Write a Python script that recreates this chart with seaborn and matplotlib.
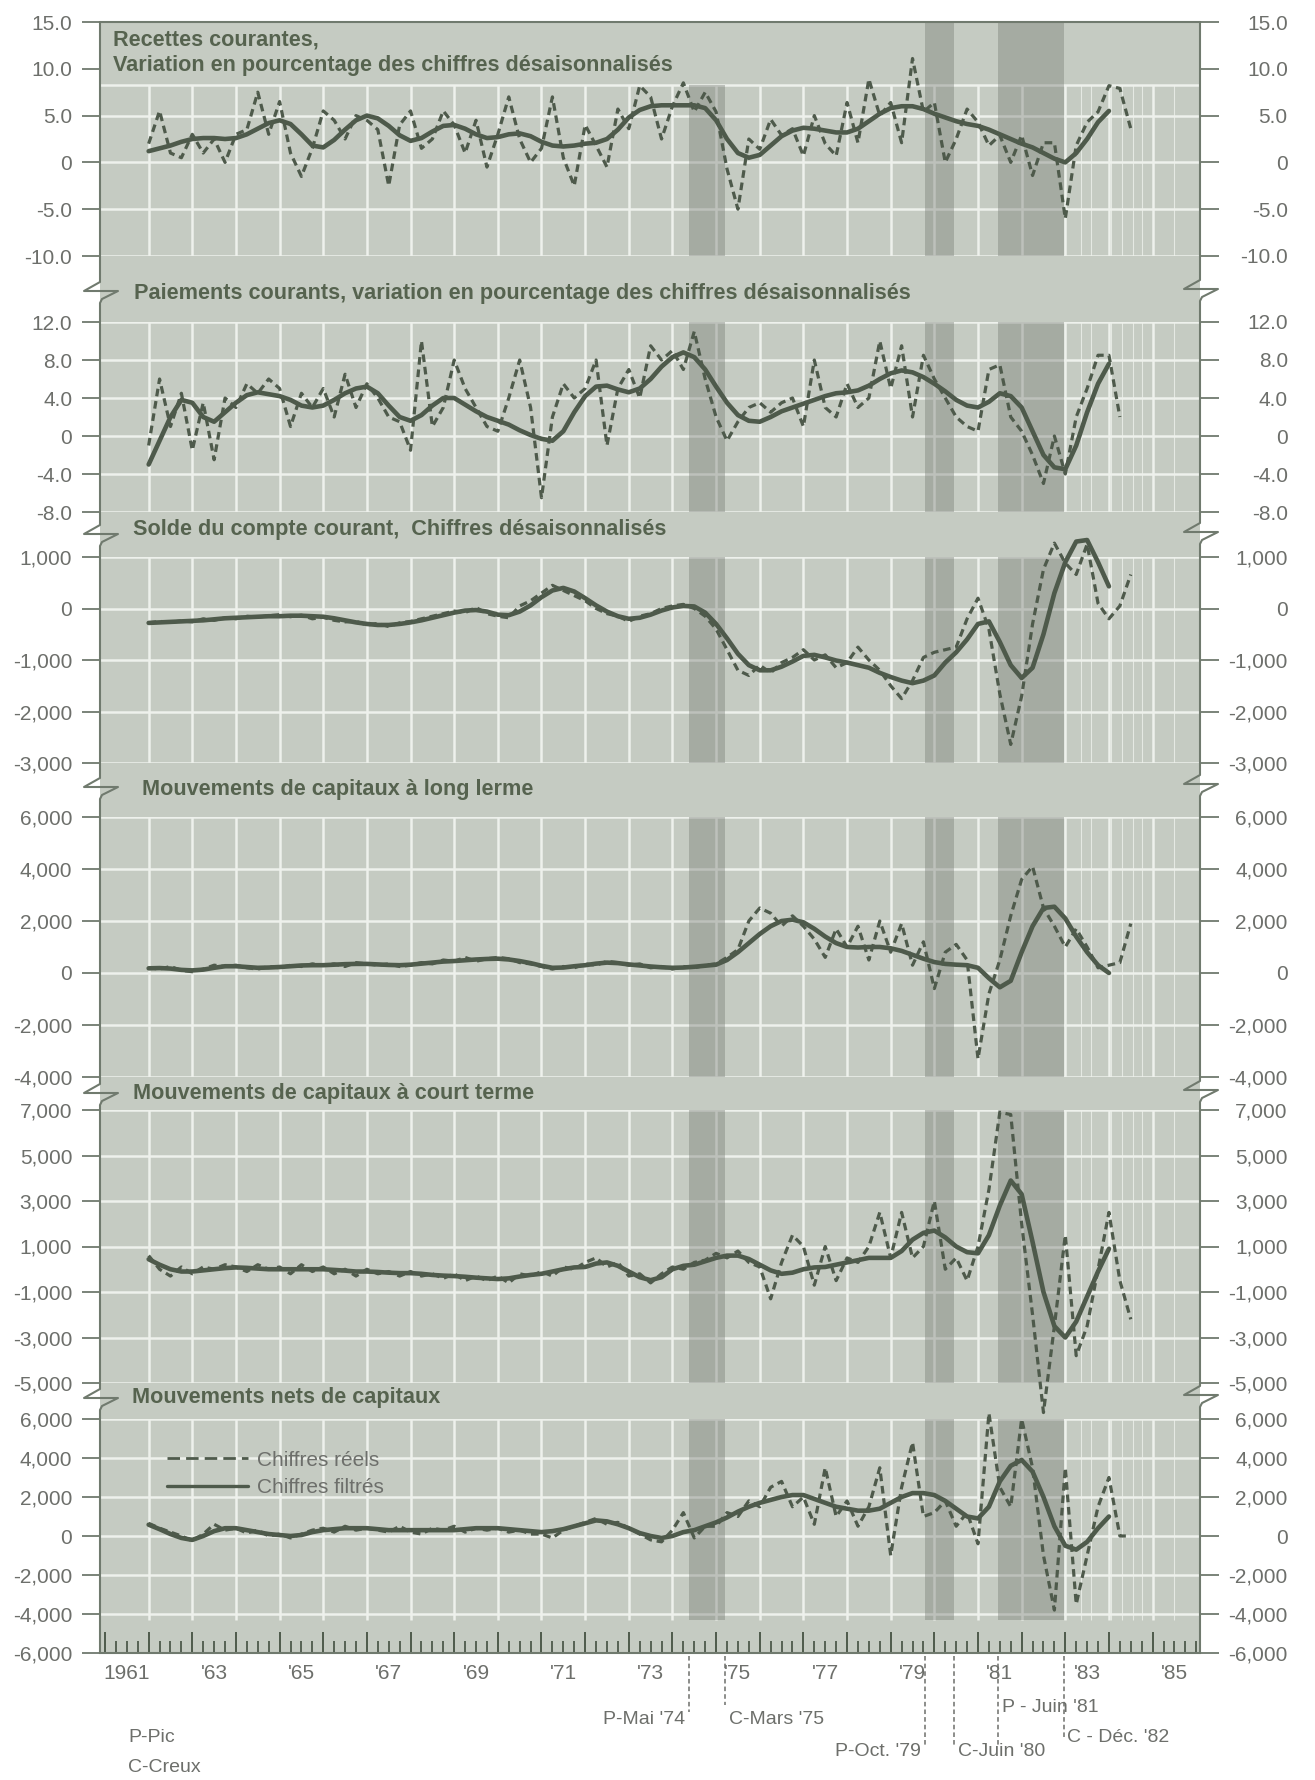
import numpy as np
import matplotlib
matplotlib.use("Agg")
import matplotlib.pyplot as plt
import seaborn as sns
from matplotlib.lines import Line2D
from matplotlib.patches import Rectangle
from matplotlib.transforms import blended_transform_factory

# ------------------------------------------------------------------ data
t0 = 1962.0          # first quarter plotted (quarterly series)

recettes_filtre = [1.2, 1.5, 1.8, 2.2, 2.5, 2.6, 2.6, 2.5, 2.6, 3.0, 3.6, 4.2,
                   4.5, 4.1, 3.0, 1.8, 1.6, 2.4, 3.5, 4.5, 5.0, 4.7, 3.9, 2.9,
                   2.3, 2.6, 3.3, 3.9, 4.0, 3.6, 3.0, 2.6, 2.7, 3.0, 3.1, 2.8,
                   2.2, 1.8, 1.7, 1.8, 2.0, 2.1, 2.5, 3.5, 4.8, 5.6, 6.0, 6.1,
                   6.1, 6.1, 6.1, 5.8, 4.5, 2.5, 1.0, 0.5, 0.8, 1.8, 2.8, 3.4,
                   3.7, 3.6, 3.4, 3.2, 3.2, 3.6, 4.4, 5.2, 5.8, 6.0, 6.0, 5.7,
                   5.2, 4.8, 4.4, 4.1, 3.9, 3.5, 3.0, 2.5, 2.0, 1.6, 1.0, 0.4,
                   0.0, 1.0, 2.5, 4.3, 5.5]
recettes_reel = [2.0, 5.5, 1.0, 0.5, 3.0, 1.0, 2.5, 0.0, 3.0, 3.5, 7.5, 3.0,
                 6.5, 1.0, -1.5, 1.5, 5.5, 4.5, 2.5, 5.0, 4.5, 3.5, -2.5, 4.0,
                 5.5, 1.5, 2.5, 5.5, 4.0, 1.0, 4.5, -0.5, 3.0, 7.0, 2.5, 0.0,
                 1.5, 7.0, 0.5, -2.5, 4.0, 1.8, -0.5, 5.7, 3.6, 8.2, 7.0, 2.5,
                 6.0, 8.5, 5.4, 7.5, 5.4, -0.7, -5.0, 2.5, 1.4, 4.6, 2.9, 3.6,
                 0.7, 5.0, 2.0, 0.7, 6.4, 2.1, 8.9, 5.0, 6.4, 2.1, 11.1, 5.4,
                 6.4, 0.0, 2.5, 5.7, 4.3, 1.8, 2.9, 0.0, 2.9, -1.4, 2.1, 2.1,
                 -6.0, 1.8, 4.3, 5.4, 8.2, 7.9, 3.6]

paiements_filtre = [-3.0, -0.5, 2.0, 3.8, 3.5, 2.0, 1.5, 2.5, 3.5, 4.3, 4.6, 4.4,
                    4.2, 3.8, 3.2, 3.0, 3.2, 3.8, 4.5, 5.0, 5.2, 4.5, 3.2, 2.0,
                    1.6, 2.2, 3.2, 4.0, 4.0, 3.3, 2.6, 2.0, 1.6, 1.2, 0.6, 0.1,
                    -0.3, -0.5, 0.5, 2.5, 4.2, 5.2, 5.3, 4.9, 4.6, 5.0, 6.0, 7.3,
                    8.3, 8.8, 8.3, 7.0, 5.2, 3.5, 2.2, 1.6, 1.5, 2.0, 2.6, 3.0,
                    3.4, 3.8, 4.2, 4.5, 4.6, 4.8, 5.3, 6.0, 6.6, 6.9, 6.7, 6.2,
                    5.5, 4.7, 3.8, 3.2, 3.0, 3.6, 4.5, 4.2, 3.0, 0.5, -2.0, -3.3,
                    -3.5, -1.0, 2.5, 5.5, 7.6]
paiements_reel = [-1.0, 6.0, 1.0, 4.5, -1.5, 3.5, -2.5, 4.0, 3.0, 5.5, 4.5, 6.0,
                  5.0, 1.0, 4.5, 3.0, 5.0, 2.0, 6.5, 3.0, 5.5, 4.0, 2.0, 1.5,
                  -1.5, 10.0, 1.0, 3.0, 8.0, 5.0, 3.0, 1.0, 0.5, 4.0, 8.0, 3.0,
                  -6.5, 2.0, 5.5, 4.0, 5.0, 8.0, -1.0, 5.0, 7.0, 4.0, 9.5, 8.0,
                  9.0, 7.0, 11.0, 6.0, 2.0, -0.5, 1.5, 3.0, 3.5, 2.5, 3.5, 4.0,
                  1.0, 8.0, 3.0, 2.0, 5.5, 3.0, 4.0, 10.0, 5.0, 9.5, 2.0, 8.5,
                  6.0, 4.0, 2.0, 1.0, 0.5, 7.0, 7.5, 2.0, 0.5, -2.0, -5.0, 0.0,
                  -4.0, 2.0, 5.0, 8.5, 8.5, 2.0]

solde_filtre = [-280, -270, -260, -250, -240, -230, -210, -190, -180, -170, -160, -150,
                -150, -140, -140, -150, -160, -190, -230, -270, -300, -320, -320, -300,
                -270, -230, -180, -130, -80, -40, -30, -60, -120, -130, -60, 60,
                220, 350, 400, 330, 200, 60, -60, -150, -200, -180, -120, -40,
                20, 50, 40, -80, -300, -580, -880, -1100, -1200, -1200, -1130, -1030,
                -920, -900, -950, -1010, -1050, -1100, -1150, -1250, -1330, -1400, -1450, -1400,
                -1300, -1050, -850, -600, -300, -250, -650, -1100, -1350, -1150, -500, 300,
                900, 1300, 1330, 900, 430]
solde_reel = [-280, -250, -270, -240, -260, -200, -230, -180, -200, -150, -170, -140,
              -120, -160, -130, -200, -170, -230, -260, -250, -320, -290, -350, -280,
              -250, -200, -150, -100, -50, -80, 20, -100, -150, -180, 50, 150,
              300, 450, 350, 250, 150, 0, -100, -150, -250, -150, -100, 0,
              50, 80, 0, -150, -400, -800, -1200, -1300, -1100, -1250, -1050, -950,
              -800, -1000, -900, -1150, -1050, -750, -1000, -1200, -1500, -1750, -1400, -950,
              -850, -800, -750, -200, 200, -400, -1660, -2640, -1700, -300, 760, 1270,
              880, 660, 1250, 100, -200, 50, 660]

long_filtre = [180, 190, 170, 120, 100, 130, 200, 260, 260, 230, 200, 210,
               230, 260, 290, 300, 300, 320, 340, 350, 350, 330, 310, 300,
               320, 360, 400, 440, 460, 490, 520, 540, 550, 520, 460, 380,
               280, 200, 210, 260, 300, 360, 400, 380, 330, 290, 250, 220,
               200, 210, 240, 280, 320, 500, 800, 1150, 1500, 1800, 2000, 2050,
               1950, 1700, 1400, 1150, 1000, 980, 1000, 1000, 950, 850, 700, 550,
               420, 350, 320, 300, 200, -200, -550, -300, 800, 1800, 2500, 2550,
               2100, 1400, 800, 300, 0]
long_reel = [200, 150, 250, 100, 50, 150, 300, 250, 300, 200, 150, 250,
             200, 300, 250, 350, 300, 350, 250, 400, 350, 300, 350, 250,
             300, 400, 350, 500, 450, 600, 450, 550, 600, 550, 400, 350,
             250, 150, 250, 200, 350, 300, 450, 400, 300, 350, 200, 250,
             150, 250, 200, 300, 350, 600, 900, 2000, 2500, 2300, 1800, 2200,
             1800, 1300, 600, 1700, 1000, 1800, 500, 2000, 800, 1900, 300, 1200,
             -600, 800, 1100, 500, -3300, -800, 500, 2200, 3600, 4100, 2500, 1800,
             1000, 1700, 1000, 200, 300, 400, 1900]

court_filtre = [440, 200, 0, -100, -100, -50, 0, 50, 80, 60, 30, 0,
                0, 0, 0, 0, 0, -30, -60, -100, -100, -120, -150, -170,
                -170, -200, -250, -280, -300, -330, -370, -400, -430, -400, -320, -250,
                -200, -100, 0, 80, 100, 250, 300, 150, -100, -350, -480, -350,
                0, 150, 200, 350, 500, 600, 600, 450, 200, -50, -200, -150,
                0, 80, 100, 200, 300, 400, 500, 500, 500, 800, 1300, 1600,
                1700, 1400, 1000, 750, 700, 1500, 2800, 3900, 3300, 1200, -1000, -2500,
                -3000, -2300, -1200, -100, 900]
court_reel = [600, 0, -300, 100, -200, 100, 0, 200, 100, -100, 200, 0,
              100, -200, 200, -100, 100, -200, 0, -300, 0, -200, -100, -300,
              -100, -300, -200, -400, -200, -500, -300, -500, -300, -600, -200, -300,
              -100, -300, 100, 0, 300, 500, 100, 300, -300, -200, -600, -200,
              100, 0, 300, 400, 700, 500, 800, 300, 100, -1300, 300, 1500,
              1000, -700, 1000, -500, 500, 300, 1000, 2500, 500, 2500, 500, 1000,
              3000, 0, 500, -500, 1000, 3500, 6900, 6800, 2000, -2000, -6300, -2500,
              1500, -3800, -2500, 0, 2500, -500, -2200]

nets_filtre = [580, 350, 100, -100, -200, 0, 250, 400, 400, 300, 200, 100,
               50, 0, 50, 200, 300, 350, 400, 400, 400, 350, 300, 300,
               300, 300, 300, 300, 300, 350, 400, 400, 400, 350, 300, 250,
               200, 250, 350, 500, 650, 800, 750, 600, 400, 150, 0, -100,
               0, 200, 300, 500, 700, 950, 1250, 1500, 1700, 1850, 2000, 2100,
               2100, 1900, 1700, 1500, 1400, 1300, 1300, 1400, 1700, 2000, 2200, 2200,
               2100, 1800, 1400, 1000, 900, 1500, 2800, 3600, 3900, 3300, 2000, 500,
               -500, -700, -300, 400, 1000]
nets_reel = [650, 400, 200, 0, -250, 100, 600, 300, 400, 150, 300, 0,
             100, -100, 100, 300, 400, 200, 500, 300, 400, 300, 200, 500,
             200, 100, 400, 300, 500, 200, 400, 300, 400, 200, 300, 100,
             100, -100, 300, 500, 700, 900, 600, 700, 400, 100, -200, -300,
             300, 1200, -100, 500, 500, 1200, 1000, 1800, 1500, 2500, 2800, 1500,
             2000, 600, 3500, 1000, 1800, 500, 1500, 3500, -1000, 2500, 4800, 1000,
             1200, 1800, 500, 1200, -400, 6300, 2500, 1500, 6000, 3500, -1000, -3800,
             3500, -3500, -1000, 1500, 3000, 0, 0]

recession_starts = [1974.37, 1979.79, 1981.46]
recession_ends = [1975.21, 1980.46, 1982.96]
turning_dates = [1974.37, 1975.21, 1979.79, 1980.46, 1981.46, 1982.96]
turning_labels = ["P-Mai '74", "C-Mars '75", "P-Oct. '79", "C-Juin '80",
                  "P - Juin '81", "C - Déc. '82"]
year_labels = ["1961", "'63", "'65", "'67", "'69", "'71", "'73", "'75",
               "'77", "'79", "'81", "'83", "'85"]

titles = [["Recettes courantes,",
           "Variation en pourcentage des chiffres désaisonnalisés"],
          ["Paiements courants, variation en pourcentage des chiffres désaisonnalisés"],
          ["Solde du compte courant,  Chiffres désaisonnalisés"],
          ["Mouvements de capitaux à long lerme"],
          ["Mouvements de capitaux à court terme"],
          ["Mouvements nets de capitaux"]]

ticks = [[15, 10, 5, 0, -5, -10],
         [12, 8, 4, 0, -4, -8],
         [1000, 0, -1000, -2000, -3000],
         [6000, 4000, 2000, 0, -2000, -4000],
         [7000, 5000, 3000, 1000, -1000, -3000, -5000],
         [6000, 4000, 2000, 0, -2000, -4000, -6000]]
tick_labels = [["15.0", "10.0", "5.0", "0", "-5.0", "-10.0"],
               ["12.0", "8.0", "4.0", "0", "-4.0", "-8.0"],
               ["1,000", "0", "-1,000", "-2,000", "-3,000"],
               ["6,000", "4,000", "2,000", "0", "-2,000", "-4,000"],
               ["7,000", "5,000", "3,000", "1,000", "-1,000", "-3,000", "-5,000"],
               ["6,000", "4,000", "2,000", "0", "-2,000", "-4,000", "-6,000"]]

series = [(recettes_reel, recettes_filtre), (paiements_reel, paiements_filtre),
          (solde_reel, solde_filtre), (long_reel, long_filtre),
          (court_reel, court_filtre), (nets_reel, nets_filtre)]

# ------------------------------------------------------------------ layout / style
W, H = 1315, 1780
AX_L, AX_R = 100, 1200
PX_PER_YEAR, X1961 = 43.65, 105
XMIN = 1961 + (AX_L - X1961) / PX_PER_YEAR
XMAX = 1961 + (AX_R - X1961) / PX_PER_YEAR

top_px = [22, 322, 557, 817, 1110, 1419]
bot_px = [256, 512, 763, 1077, 1383, 1653]
grid_rng = [(-10, 8.3), (-8, 12.4), (-3000, 1050), (-4000, 6000), (-5000, 7000), (-4300, 6000)]
band_tops = [[8.3, 15, 15], [12.4] * 3, [1050] * 3, [6000] * 3, [7000] * 3, [6000] * 3]
title_x = [113, 134, 133, 142, 133, 132]
title_y = [[40, 66], [294], [529], [789], [1093], [1398]]
breaks_l = [291, 534, 787, 1093, 1398]
breaks_r = [289, 532, 784, 1090, 1395]

BG = "#c5cbc2"
GRID = "#eef1ec"
BAND = "#7b8078"
LC = "#4e5a4b"
TICKC = "#707a6e"
TXT = "#6d6f6b"
TITLEC = "#56634f"
TICK_FS = 15
TITLE_FS = 15.6

sns.set_theme(style="white")
plt.rcParams["font.family"] = ["Liberation Sans", "DejaVu Sans"]

fig = plt.figure(figsize=(W / 100, H / 100), dpi=100)
fig.patch.set_facecolor("white")


def fxc(x):
    return x / W


def fyc(y):
    return 1 - y / H


fig.add_artist(Rectangle((fxc(AX_L), fyc(bot_px[-1])), (AX_R - AX_L) / W,
                         (bot_px[-1] - top_px[0]) / H, transform=fig.transFigure,
                         facecolor=BG, edgecolor="none", zorder=-5))

grid_years = np.arange(1962, 1986)
streaks = [1983.35, 1983.6, 1984.05, 1984.3, 1984.55, 1984.75, 1985.5]


def quarters(vals):
    return t0 + 0.25 * np.arange(len(vals))


for i in range(6):
    lo, hi = ticks[i][-1], ticks[i][0]
    ax = fig.add_axes([fxc(AX_L), fyc(bot_px[i]), (AX_R - AX_L) / W,
                       (bot_px[i] - top_px[i]) / H])
    ax.patch.set_visible(False)
    for s in ax.spines.values():
        s.set_visible(False)
    g0, g1 = grid_rng[i]
    ax.vlines(grid_years, g0, g1, color=GRID, lw=1.8, zorder=1)
    ax.vlines(streaks, g0, g1, color=GRID, lw=0.8, alpha=0.8, zorder=1)
    hl = [v for v in ticks[i] if g0 <= v <= g1]
    if i == 0:
        hl.append(g1)
    ax.hlines(hl, XMIN, XMAX, color=GRID, lw=1.8, zorder=1)
    for a, b, top in zip(recession_starts, recession_ends, band_tops[i]):
        ax.fill_between([a, b], g0, top, color=BAND, alpha=0.42, lw=0, zorder=2)

    reel, filt = series[i]
    sns.lineplot(x=quarters(reel), y=reel, ax=ax, color=LC, lw=2.3,
                 linestyle=(0, (2.4, 1.5)), estimator=None, clip_on=False, zorder=3)
    sns.lineplot(x=quarters(filt), y=filt, ax=ax, color=LC, lw=3.3,
                 estimator=None, clip_on=False, zorder=4)

    ax.set_xlim(XMIN, XMAX)
    ax.set_ylim(lo, hi)
    ax.set_xlabel("")
    ax.set_ylabel("")
    ax.set_yticks(ticks[i], tick_labels[i])
    ax.tick_params(axis="y", left=True, right=False, labelleft=True, labelright=False,
                   length=13, width=1.3, color=TICKC, pad=7, labelsize=TICK_FS,
                   labelcolor=TXT, direction="out")

    ax2 = ax.twinx()
    ax2.set_ylim(lo, hi)
    ax2.patch.set_visible(False)
    for s in ax2.spines.values():
        s.set_visible(False)
    ax2.set_yticks(ticks[i], tick_labels[i])
    ax2.tick_params(axis="y", left=False, right=True, labelleft=False, labelright=True,
                    length=13.7, width=1.3, color=TICKC, pad=49.5, labelsize=TICK_FS,
                    labelcolor=TXT, direction="out")
    for lab in ax2.get_yticklabels():
        lab.set_horizontalalignment("right")

    if i < 5:
        ax.tick_params(axis="x", bottom=False, labelbottom=False)
    else:
        ax.set_xticks(np.arange(1961, 1986))
        ax.set_xticks(np.arange(1961, 1986.1, 0.25), minor=True)
        ax.tick_params(axis="x", which="major", bottom=True, direction="in",
                       length=15, width=1.4, color=LC, labelbottom=False)
        ax.tick_params(axis="x", which="minor", bottom=True, direction="in",
                       length=9, width=1.3, color=LC, labelbottom=False)
        ax.spines["bottom"].set_visible(True)
        ax.spines["bottom"].set_color(TICKC)
        ax.spines["bottom"].set_linewidth(1.5)

        axl = ax.twiny()
        axl.set_xlim(XMIN, XMAX)
        axl.patch.set_visible(False)
        for s in axl.spines.values():
            s.set_visible(False)
        axl.xaxis.set_ticks_position("bottom")
        axl.xaxis.set_label_position("bottom")
        axl.set_xticks(np.arange(1961, 1986, 2) + 0.5, year_labels)
        axl.tick_params(axis="x", bottom=True, top=False, labelbottom=True,
                        labeltop=False, length=0, pad=8, labelsize=TICK_FS, labelcolor=TXT)

        # turning-point markers below the axis
        tr = blended_transform_factory(ax.transData, fig.transFigure)
        label_y = [1720, 1720, 1752, 1752, 1707, 1737]
        line_end = [1712, 1705, 1745, 1745, 1745, 1740]
        side = [-1, 1, -1, 1, 1, 1]
        for d, lab, ly, le, sd in zip(turning_dates, turning_labels, label_y, line_end, side):
            ax.plot([d, d], [fyc(1656), fyc(le)], transform=tr, color=TXT, lw=1.1,
                    ls=(0, (3, 2)), clip_on=False)
            ax.text(d + sd * 0.09, fyc(ly), lab, transform=tr, fontsize=14,
                    color=TXT, ha="right" if sd < 0 else "left", va="center")

    for j, line in enumerate(titles[i]):
        fig.text(fxc(title_x[i]), fyc(title_y[i][j]), line, fontsize=TITLE_FS,
                 fontweight="bold", color=TITLEC, ha="left", va="center")

# axis lines with break symbols


def axis_path(x, breaks, top, bottom):
    xs, ys = [x], [top]
    for yb in breaks:
        xs += [x, x - 16, x + 18, x + 2, x]
        ys += [yb - 9, yb, yb, yb + 8, yb + 12]
    xs.append(x)
    ys.append(bottom)
    return [fxc(v) for v in xs], [fyc(v) for v in ys]


for xa, br in ((AX_L, breaks_l), (AX_R, breaks_r)):
    xs, ys = axis_path(xa, br, top_px[0], bot_px[-1])
    fig.add_artist(Line2D(xs, ys, transform=fig.transFigure, color=TICKC, lw=1.5))
fig.add_artist(Line2D([fxc(AX_L), fxc(AX_R)], [fyc(top_px[0])] * 2,
                      transform=fig.transFigure, color=TICKC, lw=1.5))

# legend in the last panel
handles = [Line2D([], [], color=LC, lw=2.0, ls=(0, (4.5, 2.2))),
           Line2D([], [], color=LC, lw=2.4)]
fig.legend(handles, ["Chiffres réels", "Chiffres filtrés"], loc="upper left",
           bbox_to_anchor=(fxc(148), fyc(1432)), frameon=False, fontsize=15,
           labelcolor=TXT, handlelength=3.9, handletextpad=0.45, labelspacing=0.4)

fig.text(fxc(128), fyc(1737), "P-Pic", fontsize=14, color=TXT, va="center")
fig.text(fxc(128), fyc(1767), "C-Creux", fontsize=14, color=TXT, va="center")

fig.savefig("out.png", dpi=100, facecolor="white")
